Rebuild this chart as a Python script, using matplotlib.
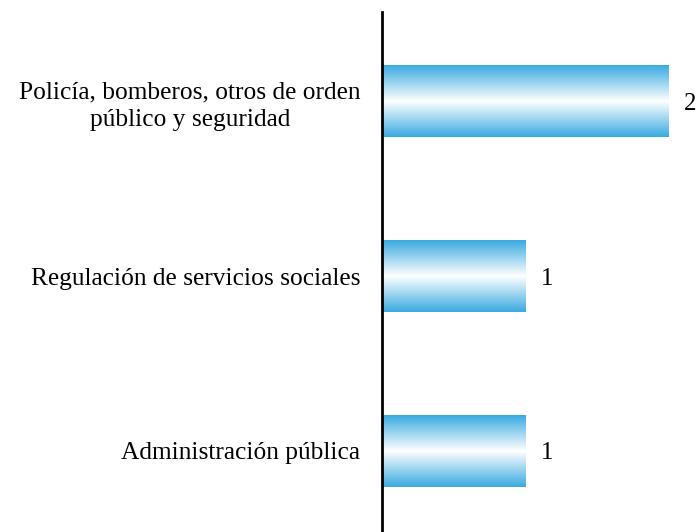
import numpy as np
import matplotlib.pyplot as plt
from matplotlib.colors import LinearSegmentedColormap

categories = ["Policía, bomberos, otros de orden\npúblico y seguridad",
              "Regulación de servicios sociales",
              "Administración pública"]
values = [2, 1, 1]

plt.rcParams["font.family"] = ["Liberation Serif", "DejaVu Serif"]

fig = plt.figure(figsize=(6.98, 5.32), dpi=100)
ax = fig.add_axes([382 / 698, 0, 316 / 698, 520 / 532])

cmap = LinearSegmentedColormap.from_list("bar", ["#3aaae1", "#ffffff", "#3aaae1"])
grad = np.linspace(0, 1, 256).reshape(-1, 1)

ypos = np.arange(len(categories))
bar_h = 0.41
bars = ax.barh(ypos, values, height=bar_h, color="none", edgecolor="none")
for b in bars:
    x0, y0 = b.get_x(), b.get_y()
    im = ax.imshow(grad, cmap=cmap, aspect="auto",
                   extent=[x0, x0 + b.get_width(), y0 + b.get_height(), y0],
                   interpolation="bicubic", zorder=2)
    im.set_clip_path(b)

for y, v in zip(ypos, values):
    ax.text(v + 0.105, y, str(v), va="center_baseline", ha="left", fontsize=18)

ax.set_xlim(0, 316 / 143.5)
ax.set_ylim(2.463, -0.509)
ax.set_yticks(ypos)
ax.set_yticklabels(categories, fontsize=18.3, multialignment="center",
                   linespacing=1.3)
ax.tick_params(axis="y", length=0, pad=15.5)
ax.set_xticks([])
for s in ["top", "right", "bottom"]:
    ax.spines[s].set_visible(False)
ax.spines["left"].set_linewidth(2)

fig.savefig("out.png", dpi=100)
